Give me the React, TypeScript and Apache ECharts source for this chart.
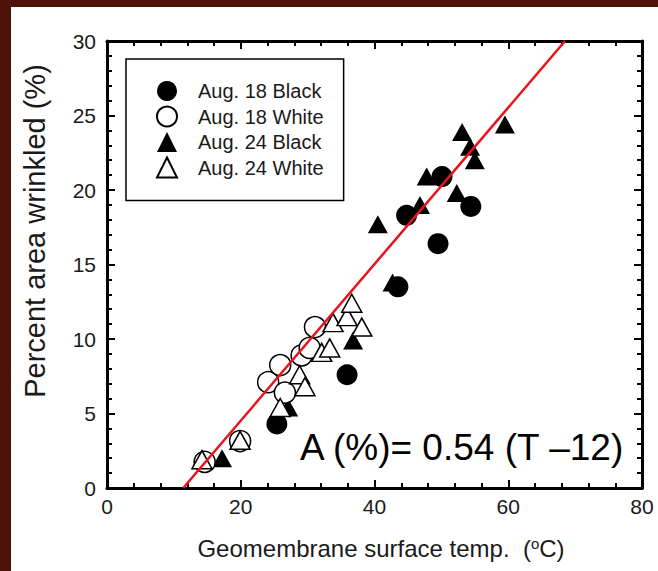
import React, { useEffect, useRef } from "react";
import * as echarts from "echarts";

// ---- data ----
const xRange = [0, 80];
const xStep = 20;
const yRange = [0, 30];
const yStep = 5;

const seriesNames = ["Aug. 18 Black", "Aug. 18 White", "Aug. 24 Black", "Aug. 24 White"];

const aug18Black = [
  [25.4, 4.3], [35.9, 7.6], [43.5, 13.5], [44.8, 18.3], [49.5, 16.4], [50.1, 20.9], [54.4, 18.9],
];
const aug18White = [
  [14.6, 1.75], [19.9, 3.15], [24.1, 7.1], [25.9, 8.25], [26.6, 6.4], [29.1, 8.9], [30.3, 9.4], [31.1, 10.8],
];
const aug24Black = [
  [17.2, 2.0], [27.1, 5.4], [36.8, 9.9], [40.5, 17.7], [42.7, 13.8], [46.8, 19.0],
  [47.8, 20.9], [52.3, 19.8], [53.1, 23.9], [54.3, 22.9], [55.0, 22.0], [59.5, 24.4],
];
const aug24White = [
  [14.2, 1.9], [19.9, 3.2], [25.9, 5.4], [28.8, 7.6], [29.6, 6.8], [32.1, 9.1], [33.3, 9.4],
  [33.8, 11.1], [35.9, 11.5], [36.6, 12.4], [38.1, 10.8],
];
// fitted line A(%) = 0.54 (T - 12), endpoints as drawn
const fitLine = [
  [11.4, 0],
  [68.5, 30],
];
const equationText = "A (%)= 0.54 (T \u201312)";
const xTitleMain = "Geomembrane surface temp.  (";
const xTitleSup = "o";
const xTitleEnd = "C)";
const yTitle = "Percent area wrinkled (%)";

const FONT = "'Liberation Sans', Arial, Helvetica, sans-serif";
const MAROON = "#4e1208";

// ticks pointing into the plot (negative length with outside placement)
function axisParts() {
  return {
    axisLine: { show: true, onZero: false, lineStyle: { color: "#000", width: 3 } },
    axisTick: { show: true, inside: false, length: -8, lineStyle: { color: "#000", width: 2 } },
    minorTick: { show: true, splitNumber: 5, length: -5, lineStyle: { color: "#000", width: 2 } },
    splitLine: { show: false },
    minorSplitLine: { show: false },
  };
}

export default function App() {
  const ref = useRef<HTMLDivElement>(null);
  useEffect(() => {
    if (!ref.current) return;
    const chart = echarts.init(ref.current, null, { renderer: "svg" });

    const labelStyle = () => ({ color: "#1a1a1a", fontSize: 21, fontFamily: FONT });

    const openStyle = { color: "#fff", borderColor: "#000", borderWidth: 1.5, opacity: 1 };
    const fillStyle = { color: "#000", borderColor: "#000", borderWidth: 0, opacity: 1 };

    chart.setOption({
      animation: false,
      backgroundColor: "#fff",
      grid: { left: 107, right: 16, top: 41, bottom: 83 },
      xAxis: [
        { type: "value", min: xRange[0], max: xRange[1], interval: xStep, position: "bottom", ...axisParts(), axisLabel: { ...labelStyle(), margin: 8 } },
        { type: "value", min: xRange[0], max: xRange[1], interval: xStep, position: "top", ...axisParts(), axisLabel: { show: false } },
      ],
      yAxis: [
        { type: "value", min: yRange[0], max: yRange[1], interval: yStep, position: "left", ...axisParts(), axisLabel: { ...labelStyle(), margin: 11 } },
        { type: "value", min: yRange[0], max: yRange[1], interval: yStep, position: "right", ...axisParts(), axisLabel: { show: false } },
      ],
      legend: {
        data: seriesNames,
        orient: "vertical",
        left: 126,
        top: 59,
        padding: [22, 20, 22, 30],
        itemWidth: 20,
        itemHeight: 20,
        itemGap: 4.5,
        borderColor: "#000",
        borderWidth: 1.5,
        backgroundColor: "#fff",
        textStyle: { color: "#1a1a1a", fontSize: 20, fontFamily: FONT, padding: [0, 0, 0, 16] },
      },
      series: [
        { name: seriesNames[0], type: "scatter", data: aug18Black, symbol: "circle", symbolSize: 21, itemStyle: fillStyle, z: 2 },
        { name: seriesNames[2], type: "scatter", data: aug24Black, symbol: "triangle", symbolSize: [20, 18], itemStyle: fillStyle, z: 2 },
        { name: seriesNames[1], type: "scatter", data: aug18White, symbol: "circle", symbolSize: 21, itemStyle: openStyle, z: 3 },
        { name: seriesNames[3], type: "scatter", data: aug24White, symbol: "triangle", symbolSize: [20, 18], itemStyle: openStyle, z: 4 },
        {
          name: "fit",
          type: "line",
          data: fitLine,
          symbol: "none",
          lineStyle: { color: "#e8141c", width: 2.5 },
          z: 6,
          silent: true,
        },
      ],
      graphic: [
        { type: "rect", shape: { x: 0, y: 0, width: 658, height: 7 }, style: { fill: MAROON }, z: 100 },
        { type: "rect", shape: { x: 0, y: 0, width: 11, height: 571 }, style: { fill: MAROON }, z: 100 },
        {
          type: "text",
          x: 300,
          y: 447,
          style: { text: equationText, fill: "#000", fontSize: 37, fontFamily: FONT, verticalAlign: "middle" },
          z: 50,
        },
        {
          type: "text",
          x: 381,
          y: 548,
          style: {
            text: `{m|${xTitleMain}}{s|${xTitleSup}}{m|${xTitleEnd}}`,
            fill: "#1a1a1a",
            fontFamily: FONT,
            align: "center",
            verticalAlign: "middle",
            rich: {
              m: { fontSize: 24, fontFamily: FONT, fill: "#1a1a1a", color: "#1a1a1a" },
              s: { fontSize: 15, fontFamily: FONT, fill: "#1a1a1a", color: "#1a1a1a", verticalAlign: "top", padding: [0, 0, 8, 0] },
            },
          },
          z: 50,
        },
        {
          type: "text",
          x: 35,
          y: 231,
          rotation: Math.PI / 2,
          style: { text: yTitle, fill: "#1a1a1a", fontSize: 29, fontFamily: FONT, align: "center", verticalAlign: "middle" },
          z: 50,
        },
      ],
    });
    return () => chart.dispose();
  }, []);

  return (
    <div style={{ position: "fixed", left: 0, top: 0, width: 658, height: 571, background: "#fff" }}>
      <div ref={ref} style={{ width: 658, height: 571 }} />
    </div>
  );
}
